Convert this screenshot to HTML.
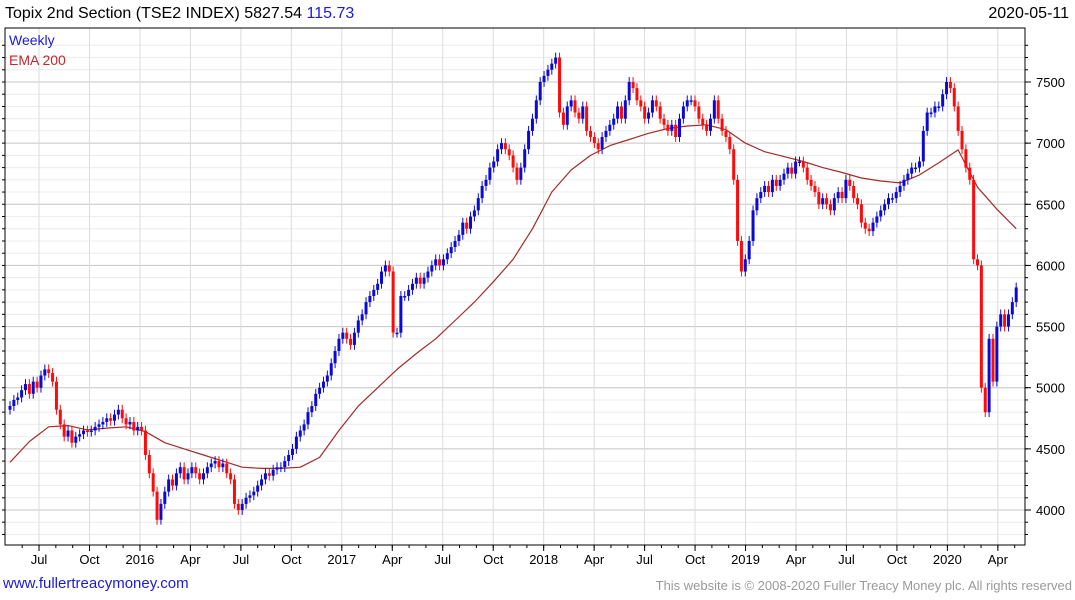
<!DOCTYPE html>
<html><head><meta charset="utf-8"><style>
body{margin:0;background:#fff;font-family:"Liberation Sans",sans-serif;}
#wrap{position:relative;width:1075px;height:600px;overflow:hidden;}
.t{position:absolute;white-space:nowrap;}
</style></head><body>
<div id="wrap">
<svg id="svg" width="1075" height="600" style="position:absolute;left:0;top:0"></svg>
<div class="t" style="left:5px;top:5px;font-size:16px;color:#000">Topix 2nd Section (TSE2 INDEX) 5827.54 <span style="color:#1a1adb">115.73</span></div>
<div class="t" style="right:6px;top:5px;font-size:16px;color:#000">2020-05-11</div>
<div class="t" style="left:9px;top:32px;font-size:14px;color:#1a1adb">Weekly</div>
<div class="t" style="left:9px;top:52px;font-size:14px;color:#c0282c">EMA 200</div>
<div class="t" style="left:3px;top:575px;font-size:15px;color:#1a1adb">www.fullertreacymoney.com</div>
<div class="t" style="right:3px;top:578px;font-size:13px;color:#999">This website is © 2008-2020 Fuller Treacy Money plc. All rights reserved</div>
</div>
<script>
const closes=[4850,4900,4920,4980,5030,4950,5050,5000,5100,5150,
5120,5050,4820,4700,4600,4650,4550,4600,4620,4650,
4640,4650,4680,4700,4720,4750,4730,4780,4820,4750,
4700,4720,4650,4680,4650,4450,4300,4150,3920,4050,
4150,4250,4200,4300,4350,4250,4300,4350,4300,4250,
4300,4350,4380,4400,4350,4380,4300,4250,4050,4000,
4050,4100,4120,4150,4200,4250,4300,4280,4330,4350,
4350,4400,4450,4500,4600,4650,4700,4800,4850,4950,
5000,5050,5100,5200,5300,5400,5450,5400,5350,5450,
5550,5600,5700,5750,5800,5850,5950,6000,5950,5450,
5450,5750,5750,5800,5850,5900,5850,5900,5950,6000,
6050,6000,6050,6100,6150,6200,6250,6350,6300,6400,
6450,6550,6650,6700,6800,6850,6950,7000,6950,6900,
6800,6700,6800,6950,7100,7200,7350,7500,7550,7600,
7650,7700,7250,7150,7300,7350,7250,7200,7300,7100,
7050,7000,6950,7050,7100,7150,7200,7300,7200,7350,
7500,7450,7350,7300,7200,7250,7350,7300,7200,7150,
7100,7150,7050,7200,7300,7350,7350,7300,7200,7150,
7100,7200,7350,7200,7100,7050,6950,6700,6200,5950,
6050,6200,6450,6550,6600,6650,6600,6700,6650,6700,
6750,6800,6750,6850,6850,6800,6700,6650,6600,6500,
6550,6500,6450,6550,6600,6550,6700,6650,6550,6500,
6350,6300,6280,6350,6400,6450,6500,6550,6550,6600,
6650,6700,6750,6800,6800,6850,7100,7250,7250,7300,
7300,7400,7500,7450,7300,7100,6950,6800,6700,6050,
6000,5000,4800,5400,5050,5500,5600,5500,5600,5700,5820];
const emaIdx=[0,5,10,15,20,25,30,35,40,45,50,55,60,65,70,75,80,85,90,95,100,105,110,115,120,125,130,135,140,145,150,155,160,165,170,175,180,185,190,195,200,205,210,215,220,225,230,235,240,245,250,255,260];
const emaVal=[4390,4560,4680,4690,4655,4670,4680,4640,4550,4500,4450,4400,4350,4340,4340,4350,4430,4650,4850,5000,5150,5280,5400,5550,5700,5870,6050,6300,6600,6780,6900,6980,7030,7080,7120,7140,7150,7110,7000,6930,6890,6850,6800,6760,6715,6690,6675,6740,6840,6945,6640,6460,6300];
const yTicks=[4000,4500,5000,5500,6000,6500,7000,7500];
const xLabels=["Jul","Oct","2016","Apr","Jul","Oct","2017","Apr","Jul","Oct","2018","Apr","Jul","Oct","2019","Apr","Jul","Oct","2020","Apr"];
const firstLabelWeek=7.5, weeksPerQuarter=13.04;

const svg=document.getElementById('svg');const NS='http://www.w3.org/2000/svg';
const L=5,R=1025,T=28,B=545;
const x=i=>10+i*3.87;
const y=v=>510-(v-4000)*0.12229;
function mk(tag,attrs,parent){const e=document.createElementNS(NS,tag);for(const k in attrs)e.setAttribute(k,attrs[k]);(parent||svg).appendChild(e);return e;}
for(let v=3800;v<=7800;v+=100){const yy=y(v);if(yy<T||yy>B)continue;
 const ln=mk('line',{x1:L,x2:R,y1:yy,y2:yy,stroke:v%500===0?'#c4c4c4':'#ececec','stroke-width':1});
 
 }
xLabels.forEach((lab,k)=>{const xx=x(firstLabelWeek+k*weeksPerQuarter);
 const ln=mk('line',{x1:xx,x2:xx,y1:T,y2:B,stroke:'#dcdcdc','stroke-width':1});
 
 
 const tk=mk('line',{x1:xx,x2:xx,y1:B,y2:B+6,stroke:'#000'});
 
 
 const t=mk('text',{x:xx,y:B+19,'font-size':13,'text-anchor':'middle',fill:'#000','font-family':'Liberation Sans'});
 t.textContent=lab;
 
 });
for(let m=-1;m<62;m++){const xx=x(firstLabelWeek+m*weeksPerQuarter/3);if(xx<L||xx>R)continue;
 const tk=mk('line',{x1:xx,x2:xx,y1:B,y2:B+3,stroke:'#000'});
 
 }
yTicks.forEach(v=>{const t=mk('text',{x:1036,y:y(v)+5,'font-size':13,fill:'#000','font-family':'Liberation Sans'});
 t.textContent=v;
 
 
 const tk=mk('line',{x1:R,x2:R+6,y1:y(v),y2:y(v),stroke:'#000'});
 
 });
for(let v=3800;v<=7800;v+=100){const yy=y(v);if(yy<T||yy>B)continue;
 const tk=mk('line',{x1:R,x2:R+3,y1:yy,y2:yy,stroke:'#000'});
 
 
 const tl=mk('line',{x1:L-3,x2:L,y1:yy,y2:yy,stroke:'#000'});
 
 }
let pts=[];for(let k=0;k<emaIdx.length;k++)pts.push(x(emaIdx[k]).toFixed(1)+','+y(emaVal[k]).toFixed(1));
const ema=mk('polyline',{points:pts.join(' '),fill:'none',stroke:'#a52a2a','stroke-width':1.2,'stroke-linejoin':'round'});


closes.forEach((c,i)=>{const o=i?closes[i-1]:c-30;const up=c>=o;const col=up?'#0a0ad2':'#ff0a0a';
 const hi=Math.max(o,c)+40,lo=Math.min(o,c)-40;const xx=x(i);
 const g=mk('g',{});
 
 
 mk('line',{x1:xx,x2:xx,y1:y(hi),y2:y(lo),stroke:col,'stroke-width':1},g);
 const top=y(Math.max(o,c)),h=Math.max(1.5,y(Math.min(o,c))-top);
 mk('rect',{x:xx-1.5,y:top,width:3,height:h,fill:col},g);});
const fr=mk('rect',{x:L,y:T,width:R-L,height:B-T,fill:'none',stroke:'#000','stroke-width':1});


</script>
</body></html>
